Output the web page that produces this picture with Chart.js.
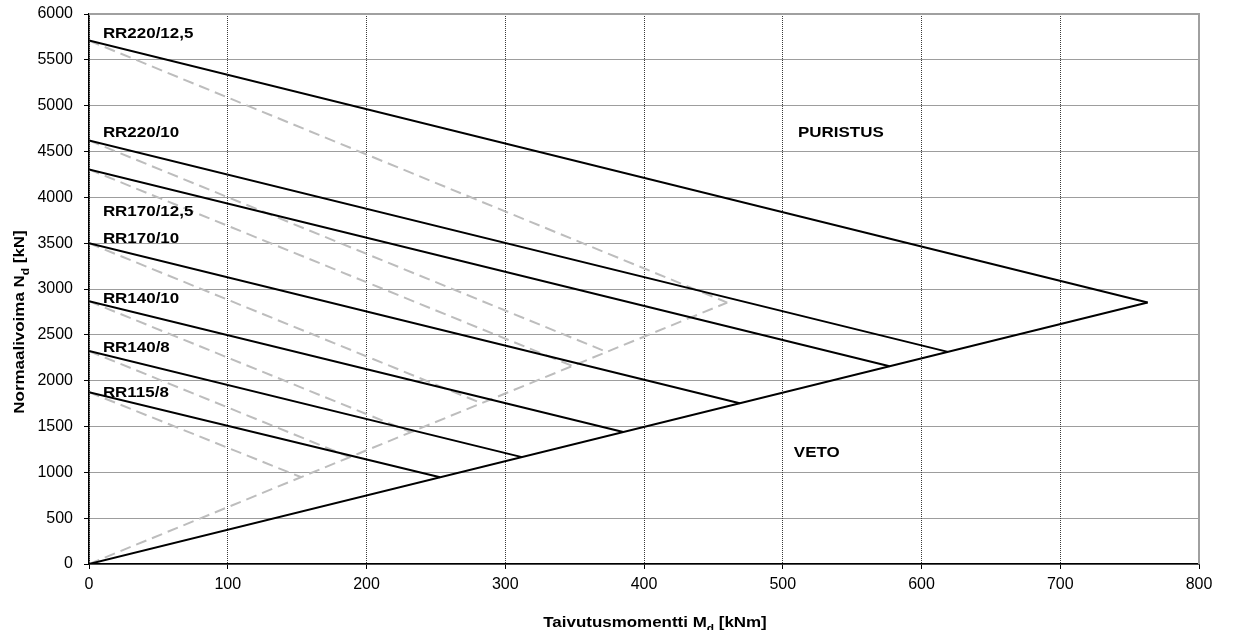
<!DOCTYPE html>
<html lang="fi">
<head>
  <meta charset="UTF-8" />
  <title>Normaalivoima - taivutusmomentti</title>
  <script src="https://cdn.jsdelivr.net/npm/chart.js"></script>
  <style>
    body { margin: 0; background: #fff; }
    #wrap { width: 1235px; height: 630px; position: relative; }
  </style>
</head>
<body>
  <div id="wrap"><canvas id="chart"></canvas></div>

  <script>
    // section names and the black interaction lines
    const sections = ['RR220/12,5', 'RR220/10', 'RR170/12,5', 'RR170/10', 'RR140/10', 'RR140/8', 'RR115/8'];
    const nStart   = [5710, 4620, 4305, 3500, 2867, 2323, 1875];
    const mEnd     = [763, 619, 577, 469, 385, 312, 253];
    const nEnd     = [2852, 2314, 2157, 1753, 1439, 1166, 946];
    // grey dashed lines end on the grey diagonal
    const mEndGray = [460, 373, 349, 283, 232, 188, 153];

    // diagonals from origin
    const envM = [0, 763];
    const envN = [0, 2852];
    const grayEnvM = [0, 460];
    const grayEnvN = [0, 2852];

    // text labels (data units)
    const labelM = 10;
    const labelN = [5741, 4659, 3795, 3500, 2845, 2310, 1818];
    const zoneNames = ['PURISTUS', 'VETO'];
    const zoneM = [511, 508];
    const zoneN = [4659, 1162];

    const FONT = '"Liberation Sans", Arial, sans-serif';
    const STRETCH = 1.13;

    const datasets = [];
    sections.forEach((s, i) => {
      datasets.push({
        label: s,
        data: [{ x: 0, y: nStart[i] }, { x: mEnd[i], y: nEnd[i] }],
        borderColor: '#000', borderWidth: 2, order: 1
      });
    });
    datasets.push({
      label: 'envelope',
      data: envM.map((m, i) => ({ x: m, y: envN[i] })),
      borderColor: '#000', borderWidth: 2, order: 1
    });
    sections.forEach((s, i) => {
      datasets.push({
        label: s + ' (grey)',
        data: [{ x: 0, y: nStart[i] }, { x: mEndGray[i], y: nEnd[i] }],
        borderColor: '#bdbdbd', borderWidth: 2, borderDash: [11, 6], order: 2
      });
    });
    datasets.push({
      label: 'grey envelope',
      data: grayEnvM.map((m, i) => ({ x: m, y: grayEnvN[i] })),
      borderColor: '#bdbdbd', borderWidth: 2, borderDash: [11, 6], order: 2
    });

    // draw text made of pieces, with subscripts, centred on the origin
    function richText(ctx, parts, size) {
      let w = 0;
      parts.forEach(p => {
        ctx.font = 'bold ' + (p.sub ? size * 0.7 : size) + 'px ' + FONT;
        p.w = ctx.measureText(p.t).width;
        w += p.w;
      });
      let x = -w / 2;
      parts.forEach(p => {
        ctx.font = 'bold ' + (p.sub ? size * 0.7 : size) + 'px ' + FONT;
        ctx.fillText(p.t, x, p.sub ? size * 0.3 : 0);
        x += p.w;
      });
    }

    const extras = {
      id: 'extras',
      afterDraw(chart) {
        const { ctx, chartArea: a, scales: { x, y } } = chart;
        ctx.save();
        // grey frame top and right
        ctx.strokeStyle = '#a0a0a0';
        ctx.lineWidth = 2;
        ctx.beginPath();
        ctx.moveTo(a.left, a.top);
        ctx.lineTo(a.right, a.top);
        ctx.lineTo(a.right, a.bottom);
        ctx.stroke();

        ctx.fillStyle = '#000';
        ctx.textAlign = 'left';
        ctx.textBaseline = 'alphabetic';
        const label = (t, px, py) => {
          ctx.save();
          ctx.translate(px, py);
          ctx.scale(STRETCH, 1);
          ctx.font = 'bold 15px ' + FONT;
          ctx.fillText(t, 0, 0);
          ctx.restore();
        };
        sections.forEach((s, i) => label(s, x.getPixelForValue(labelM), y.getPixelForValue(labelN[i])));
        zoneNames.forEach((s, i) => label(s, x.getPixelForValue(zoneM[i]), y.getPixelForValue(zoneN[i])));

        // axis titles
        ctx.save();
        ctx.translate(655, 627);
        ctx.scale(STRETCH, 1);
        richText(ctx, [{ t: 'Taivutusmomentti M' }, { t: 'd', sub: true }, { t: ' [kNm]' }], 15);
        ctx.restore();

        ctx.save();
        ctx.translate(24, 322);
        ctx.rotate(-Math.PI / 2);
        ctx.scale(STRETCH, 1);
        richText(ctx, [{ t: 'Normaalivoima N' }, { t: 'd', sub: true }, { t: ' [kN]' }], 15);
        ctx.restore();

        ctx.restore();
      }
    };

    const axisCommon = {
      type: 'linear',
      ticks: { color: '#000', font: { family: FONT, size: 16 }, callback: v => String(v) },
      grid: { color: '#3a3a3a', lineWidth: 1, tickColor: '#000', tickLength: 5, tickBorderDash: [] },
      border: { display: true, color: '#000', width: 1.5, dash: [1, 1] }
    };

    new Chart(document.getElementById('chart'), {
      type: 'scatter',
      data: { datasets: datasets },
      options: {
        responsive: true,
        maintainAspectRatio: false,
        animation: false,
        showLine: true,
        elements: { point: { radius: 0, hoverRadius: 0 }, line: { tension: 0 } },
        layout: { padding: { top: 14, right: 36, left: 0, bottom: 0 } },
        plugins: { legend: { display: false }, tooltip: { enabled: false } },
        scales: {
          x: Object.assign({}, axisCommon, {
            min: 0, max: 800,
            ticks: Object.assign({}, axisCommon.ticks, { stepSize: 100, padding: 6, maxRotation: 0 }),
            afterFit(scale) { scale.height = 66; scale.paddingLeft = 0; scale.paddingRight = 0; }
          }),
          y: Object.assign({}, axisCommon, {
            min: 0, max: 6000,
            ticks: Object.assign({}, axisCommon.ticks, { stepSize: 500, padding: 11 }),
            afterFit(scale) { scale.width = 89; scale.paddingTop = 0; scale.paddingBottom = 0; }
          })
        }
      },
      plugins: [extras]
    });
  </script>
</body>
</html>
